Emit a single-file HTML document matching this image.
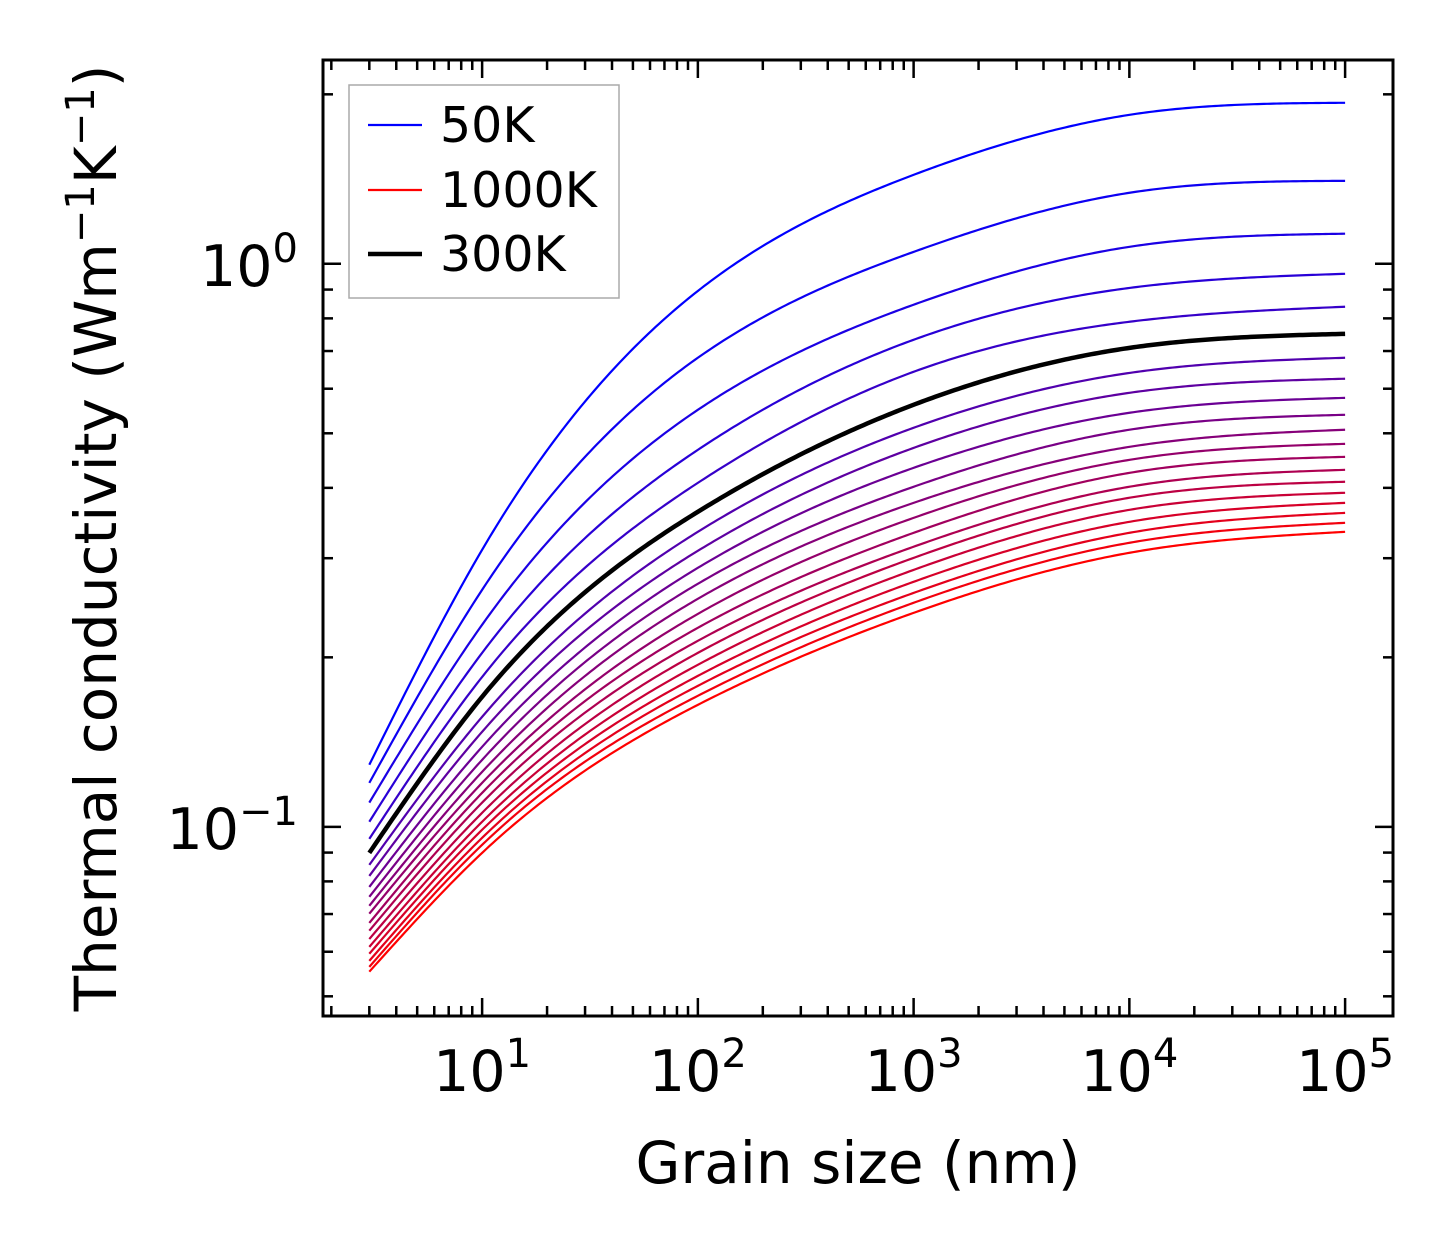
<!DOCTYPE html>
<html><head><meta charset="utf-8"><style>
html,body{margin:0;padding:0;background:#fff;}
svg{display:block;font-family:"DejaVu Sans","Liberation Sans",sans-serif;}
</style></head><body>
<svg id="chart" width="1454" height="1254" viewBox="0 0 1454 1254" xmlns="http://www.w3.org/2000/svg">
<rect width="1454" height="1254" fill="#fff"/>
<g id="curves"></g>
<g id="ticks"></g>
<rect x="323" y="60" width="1070" height="956" fill="none" stroke="#000" stroke-width="3"/>
<g id="labels" font-size="57" fill="#000"></g>
<text x="858" y="1183" font-size="58" text-anchor="middle">Grain size (nm)</text>
<text transform="translate(116,538) rotate(-90)" font-size="58" text-anchor="middle">Thermal conductivity (Wm<tspan font-size="40" dy="-22">−1</tspan><tspan dy="22">K</tspan><tspan font-size="40" dy="-22">−1</tspan><tspan dy="22">)</tspan></text>
<g>
<rect x="349" y="85" width="270" height="213" fill="#fff" stroke="#aaa" stroke-width="1.5"/>
<line x1="368" y1="125" x2="422" y2="125" stroke="rgb(0,0,255)" stroke-width="2.2"/>
<text x="440" y="142" font-size="49">50K</text>
<line x1="368" y1="190" x2="422" y2="190" stroke="rgb(255,0,0)" stroke-width="2.2"/>
<text x="440" y="207" font-size="49">1000K</text>
<line x1="368" y1="254" x2="422" y2="254" stroke="#000" stroke-width="4.5"/>
<text x="440" y="271" font-size="49">300K</text>
</g>
</svg>
<script>
const grainSizes = [3, 10, 100, 1000, 10000, 100000];
const temperatures = [50,100,150,200,250,300,350,400,450,500,550,600,650,700,750,800,850,900,950,1000];
const k50 = [0.1289,0.3105,0.895,1.439,1.839,1.932];
const k100 = [0.1197,0.2636,0.681,1.050,1.337,1.404];
const k150 = [0.1104,0.2285,0.5504,0.846,1.072,1.131];
const k200 = [0.1021,0.2037,0.4673,0.733,0.906,0.960];
const k250 = [0.0952,0.1846,0.4083,0.643,0.789,0.839];
const k300 = [0.0899,0.1702,0.3627,0.5619,0.709,0.751];
const k350 = [0.0856,0.1568,0.3342,0.5114,0.640,0.681];
const k400 = [0.0818,0.1475,0.3092,0.471,0.590,0.625];
const k450 = [0.0782,0.1387,0.2884,0.4341,0.5437,0.578];
const k500 = [0.0751,0.1315,0.2702,0.4018,0.5073,0.5393];
const k550 = [0.0724,0.1252,0.2541,0.3762,0.473,0.5073];
const k600 = [0.0701,0.1197,0.2389,0.3538,0.4485,0.4789];
const k650 = [0.0675,0.1149,0.2257,0.3328,0.4253,0.4541];
const k700 = [0.0654,0.1104,0.2140,0.3144,0.4018,0.4306];
const k750 = [0.0632,0.1059,0.2037,0.3004,0.3841,0.4101];
const k800 = [0.0612,0.1021,0.1940,0.2860,0.3656,0.3920];
const k850 = [0.0595,0.0988,0.1854,0.2724,0.3481,0.3762];
const k900 = [0.0578,0.0956,0.1780,0.2603,0.3328,0.3611];
const k950 = [0.0564,0.0929,0.1709,0.2500,0.3195,0.3467];
const k1000 = [0.0553,0.0899,0.1647,0.2399,0.3067,0.3342];
const series = [k50,k100,k150,k200,k250,k300,k350,k400,k450,k500,k550,k600,k650,k700,k750,k800,k850,k900,k950,k1000];
const xTickExps = [1,2,3,4,5];
const yTickExps = [-1,0];

const NS = "http://www.w3.org/2000/svg";
const X0 = 323, X1 = 1393, Y0 = 60, Y1 = 1016;
const xLmin = Math.log10(1.83), xLmax = 5.222;
const yLmin = -1.336, yLmax = 0.362;
function xs(v){ return X0 + (Math.log10(v) - xLmin) / (xLmax - xLmin) * (X1 - X0); }
function ys(v){ return Y1 - (Math.log10(v) - yLmin) / (yLmax - yLmin) * (Y1 - Y0); }

// natural cubic spline in log-log space
function spline(x, y){
  const n = x.length, h = [], al = [], l = [1], mu = [0], z = [0], c = new Array(n).fill(0), b = [], d = [];
  for (let i=0;i<n-1;i++) h.push(x[i+1]-x[i]);
  for (let i=1;i<n-1;i++) al[i] = 3/h[i]*(y[i+1]-y[i]) - 3/h[i-1]*(y[i]-y[i-1]);
  for (let i=1;i<n-1;i++){ l[i]=2*(x[i+1]-x[i-1])-h[i-1]*mu[i-1]; mu[i]=h[i]/l[i]; z[i]=(al[i]-h[i-1]*z[i-1])/l[i]; }
  l[n-1]=1; z[n-1]=0; c[n-1]=0;
  for (let j=n-2;j>=0;j--){ c[j]=z[j]-mu[j]*c[j+1]; b[j]=(y[j+1]-y[j])/h[j]-h[j]*(c[j+1]+2*c[j])/3; d[j]=(c[j+1]-c[j])/(3*h[j]); }
  return function(t){
    let i=0; while(i<n-2 && t>x[i+1]) i++;
    const dx=t-x[i];
    return y[i]+b[i]*dx+c[i]*dx*dx+d[i]*dx*dx*dx;
  };
}

const curves = document.getElementById('curves');
const lx = grainSizes.map(v=>Math.log10(v));
const order = series.map((s,i)=>i).filter(i=>temperatures[i]!==300).concat([temperatures.indexOf(300)]);
order.forEach(i=>{
  const f = spline(lx, series[i].map(v=>Math.log10(v)));
  let pts = [];
  const a = lx[0], b = lx[lx.length-1];
  for (let k=0;k<=300;k++){
    const L = a + (b-a)*k/300;
    pts.push(xs(Math.pow(10,L)).toFixed(2)+','+ys(Math.pow(10,f(L))).toFixed(2));
  }
  const p = document.createElementNS(NS,'polyline');
  p.setAttribute('points', pts.join(' '));
  const t = i/(series.length-1);
  const col = temperatures[i]===300 ? '#000' : 'rgb('+Math.round(255*t)+',0,'+Math.round(255*(1-t))+')';
  p.setAttribute('fill','none');
  p.setAttribute('stroke', col);
  p.setAttribute('stroke-width', temperatures[i]===300 ? 4.5 : 2.2);
  
  
  curves.appendChild(p);
});

const ticks = document.getElementById('ticks');
function tick(x1,y1,x2,y2,name){
  const l = document.createElementNS(NS,'line');
  l.setAttribute('x1',x1); l.setAttribute('y1',y1); l.setAttribute('x2',x2); l.setAttribute('y2',y2);
  l.setAttribute('stroke','#000'); l.setAttribute('stroke-width',2.5);
  
  
  ticks.appendChild(l);
}
for (let e=0;e<=5;e++){
  for (let m=1;m<=9;m++){
    const v = m*Math.pow(10,e), x = xs(v);
    if (x<X0+1 || x>X1-1) continue;
    const len = m===1 ? 18 : 10;
    tick(x,Y1,x,Y1-len,'x-tick');
    tick(x,Y0,x,Y0+len,'x-tick-top');
  }
}
for (let e=-2;e<=0;e++){
  for (let m=1;m<=9;m++){
    const v = m*Math.pow(10,e), y = ys(v);
    if (y<Y0+1 || y>Y1-1) continue;
    const len = m===1 ? 18 : 10;
    tick(X0,y,X0+len,y,'y-tick');
    tick(X1,y,X1-len,y,'y-tick-right');
  }
}
const labels = document.getElementById('labels');
xTickExps.forEach(e=>{
  const t = document.createElementNS(NS,'text');
  t.setAttribute('x', xs(Math.pow(10,e))); t.setAttribute('y', 1091);
  t.setAttribute('text-anchor','middle');
  t.innerHTML = '10<tspan font-size="40" dy="-24">'+e+'</tspan>';
  
  
  labels.appendChild(t);
});
yTickExps.forEach(e=>{
  const t = document.createElementNS(NS,'text');
  t.setAttribute('x', 298); t.setAttribute('y', ys(Math.pow(10,e))+22);
  t.setAttribute('text-anchor','end');
  t.innerHTML = '10<tspan font-size="40" dy="-24">'+(e<0?'−'+(-e):e)+'</tspan>';
  
  
  labels.appendChild(t);
});
</script>
</body></html>
